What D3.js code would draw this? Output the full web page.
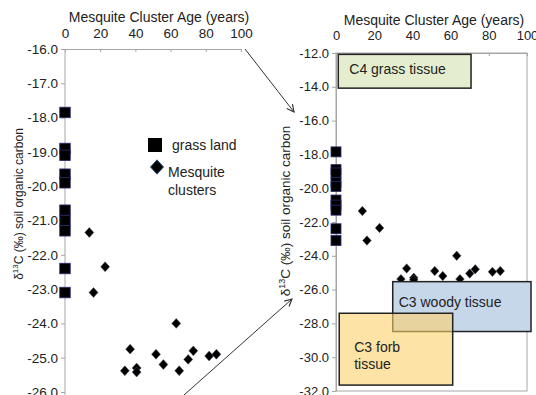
<!DOCTYPE html>
<html>
<head>
<meta charset="utf-8">
<script src="https://cdn.jsdelivr.net/npm/d3@7"></script>
<style>
  body { margin: 0; background: #fff; }
  svg { font-family: "Liberation Sans", Arial, sans-serif; }
</style>
</head>
<body>
<div id="chart"></div>
<script>
// grassland samples (age 0)
var grassAge = [0, 0, 0, 0, 0, 0, 0, 0, 0, 0]
var grassD13C = [-17.85, -18.9, -19.1, -19.65, -19.9, -20.7, -21.0, -21.3, -22.4, -23.1]

// mesquite clusters
var mesqAge = [13.8, 22.8, 16.2, 63.2, 37.0, 34.0, 40.7, 40.7, 51.7, 55.9, 64.9, 70.0, 72.9, 81.9, 86.0]
var mesqD13C = [-21.35, -22.35, -23.1, -24.0, -24.75, -25.38, -25.3, -25.42, -24.9, -25.2, -25.38, -25.05, -24.8, -24.95, -24.9]

// tissue ranges drawn on the right panel
var tissueNames = ["C4 grass tissue", "C3 woody tissue", "C3 forb tissue"]
var tissueAge = [[1.2, 70.7], [29.7, 102.1], [1.7, 61.1]]
var tissueD13C = [[-12.08, -14.08], [-25.53, -28.48], [-27.4, -31.65]]

var xTicks = [0, 20, 40, 60, 80, 100]
var leftYTicks = d3.range(-16, -26.5, -1)
var rightYTicks = d3.range(-12, -32.5, -2)

var width = 536, height = 395

var svg = d3.select("#chart").append("svg")
    .attr("width", width)
    .attr("height", height)

var defs = svg.append("defs")
defs.append("marker")
    .attr("id", "arrow")
    .attr("viewBox", "0 0 10 10")
    .attr("refX", 9).attr("refY", 5)
    .attr("markerWidth", 9).attr("markerHeight", 9)
    .attr("orient", "auto")
    .append("path")
    .attr("d", "M1,1 L9,5 L1,9")
    .attr("fill", "none")
    .attr("stroke", "#333")
    .attr("stroke-width", 1.3)

var fmt = function(d) { return d.toFixed(1) }
var axisColor = "#a6a6a6"

function styleAxis(g, size) {
    g.selectAll(".domain").attr("stroke", axisColor)
    g.selectAll(".tick line").attr("stroke", axisColor)
    g.selectAll("text").attr("fill", "#222").style("font-size", size + "px").attr("font-family", null)
}

var diamond = function(r) { return "M0," + (-r * 1.1) + "L" + r + ",0L0," + (r * 1.1) + "L" + (-r) + ",0Z" }

function drawPoints(g, x, y, sq, dr) {
    g.selectAll(".grass")
        .data(grassAge.map(function(a, i) { return [a, grassD13C[i]] }))
        .enter().append("rect")
        .attr("x", function(d) { return x(d[0]) - sq / 2 })
        .attr("y", function(d) { return y(d[1]) - sq / 2 })
        .attr("width", sq).attr("height", sq)
        .attr("fill", "#000")
        .attr("stroke", "#2b2b72")
        .attr("stroke-width", 0.8)

    g.selectAll(".mesq")
        .data(mesqAge.map(function(a, i) { return [a, mesqD13C[i]] }))
        .enter().append("path")
        .attr("d", diamond(dr))
        .attr("transform", function(d) { return "translate(" + x(d[0]) + "," + y(d[1]) + ")" })
        .attr("fill", "#000")
        .attr("stroke", "#556")
        .attr("stroke-width", 0.5)
}

// ---------- left panel ----------
var xL = d3.scaleLinear().domain([0, 100]).range([65, 241])
var yL = d3.scaleLinear().domain([-16, -26]).range([49, 392])

var left = svg.append("g")

left.append("g")
    .attr("transform", "translate(0," + yL(-16) + ")")
    .call(d3.axisTop(xL).tickValues(xTicks).tickFormat(d3.format("d")).tickSizeInner(-3).tickSizeOuter(-3).tickPadding(11))
    .call(styleAxis, 13.5)

left.append("g")
    .attr("transform", "translate(" + xL(0) + ",0)")
    .call(d3.axisLeft(yL).tickValues(leftYTicks).tickFormat(fmt).tickSizeInner(4).tickSizeOuter(0).tickPadding(3))
    .call(styleAxis, 13.5)
    .call(function(g) { g.select(".domain").attr("d", "M0," + yL(-16) + "V" + height) })

left.append("text")
    .attr("x", 159).attr("y", 22)
    .attr("text-anchor", "middle")
    .style("font-size", "14px")
    .attr("fill", "#222")
    .text("Mesquite Cluster Age (years)")

var yLabelL = left.append("text")
    .attr("transform", "translate(22.5,204) rotate(-90)")
    .attr("text-anchor", "middle")
    .style("font-size", "12px")
    .attr("fill", "#222")
yLabelL.append("tspan").text("δ")
yLabelL.append("tspan").attr("dy", -5).style("font-size", "8px").text("13")
yLabelL.append("tspan").attr("dy", 5).text("C (‰) soil organic carbon")

drawPoints(left, xL, yL, 10.5, 4.5)

// legend
left.append("rect")
    .attr("x", 148).attr("y", 138).attr("width", 14).attr("height", 14)
    .attr("fill", "#000")
left.append("text").attr("x", 172).attr("y", 150).style("font-size", "14px").attr("fill", "#222").text("grass land")
left.append("path")
    .attr("d", diamond(6.5))
    .attr("transform", "translate(157,167)")
    .attr("fill", "#000").attr("stroke", "#2b4f7a").attr("stroke-width", 1)
left.append("text").attr("x", 168).attr("y", 177).style("font-size", "14px").attr("fill", "#222").text("Mesquite")
left.append("text").attr("x", 168).attr("y", 195).style("font-size", "14px").attr("fill", "#222").text("clusters")

// ---------- right panel ----------
var xR = d3.scaleLinear().domain([0, 100]).range([336, 527])
var yR = d3.scaleLinear().domain([-12, -32]).range([53, 391])

var right = svg.append("g")

right.append("rect")
    .attr("x", xR(0)).attr("y", yR(-12))
    .attr("width", xR(100) - xR(0)).attr("height", yR(-32) - yR(-12))
    .attr("fill", "none").attr("stroke", axisColor)

right.append("g")
    .attr("transform", "translate(0," + yR(-12) + ")")
    .call(d3.axisTop(xR).tickValues(xTicks).tickFormat(d3.format("d")).tickSizeInner(-3).tickSizeOuter(0).tickPadding(13))
    .call(styleAxis, 13)

right.append("g")
    .attr("transform", "translate(" + xR(0) + ",0)")
    .call(d3.axisLeft(yR).tickValues(rightYTicks).tickFormat(fmt).tickSizeInner(4).tickSizeOuter(0).tickPadding(3))
    .call(styleAxis, 13)

right.append("text")
    .attr("x", 434).attr("y", 25)
    .attr("text-anchor", "middle")
    .style("font-size", "14px")
    .attr("fill", "#222")
    .text("Mesquite Cluster Age (years)")

var yLabelR = right.append("text")
    .attr("transform", "translate(290,211) rotate(-90)")
    .attr("text-anchor", "middle")
    .style("font-size", "13.5px")
    .attr("fill", "#222")
yLabelR.append("tspan").text("δ")
yLabelR.append("tspan").attr("dy", -5).style("font-size", "9px").text("13")
yLabelR.append("tspan").attr("dy", 5).text("C (‰) soil organic carbon")

drawPoints(right, xR, yR, 10, 4.3)

// tissue boxes
var boxFill = ["#e4eecf", "#c6d7ea", "rgba(252,208,105,0.6)"]
var boxes = right.selectAll(".tissue")
    .data(tissueNames.map(function(n, i) { return { name: n, age: tissueAge[i], d13c: tissueD13C[i], fill: boxFill[i] } }))
    .enter().append("g")

boxes.append("rect")
    .attr("x", function(d) { return xR(d.age[0]) })
    .attr("y", function(d) { return yR(d.d13c[0]) })
    .attr("width", function(d) { return xR(d.age[1]) - xR(d.age[0]) })
    .attr("height", function(d) { return yR(d.d13c[1]) - yR(d.d13c[0]) })
    .attr("fill", function(d) { return d.fill })
    .attr("stroke", "#222")
    .attr("stroke-width", 1.5)

boxes.each(function(d, i) {
    var g = d3.select(this)
    var x0 = xR(d.age[0]), y0 = yR(d.d13c[0])
    if (i == 0) {
        g.append("text").attr("x", x0 + 11).attr("y", y0 + 20).text(d.name)
    } else if (i == 1) {
        g.append("text").attr("x", x0 + 6).attr("y", y0 + 25).text(d.name)
    } else {
        g.append("text").attr("x", x0 + 15).attr("y", y0 + 39).text("C3 forb")
        g.append("text").attr("x", x0 + 15).attr("y", y0 + 56).text("tissue")
    }
    g.selectAll("text").style("font-size", "14px").attr("fill", "#222")
})

// arrows linking the panels
svg.append("line")
    .attr("x1", 245).attr("y1", 49).attr("x2", 294).attr("y2", 112)
    .attr("stroke", "#333").attr("stroke-width", 1)
    .attr("marker-end", "url(#arrow)")
svg.append("line")
    .attr("x1", 184).attr("y1", 395).attr("x2", 292).attr("y2", 299)
    .attr("stroke", "#333").attr("stroke-width", 1)
    .attr("marker-end", "url(#arrow)")
</script>
</body>
</html>
